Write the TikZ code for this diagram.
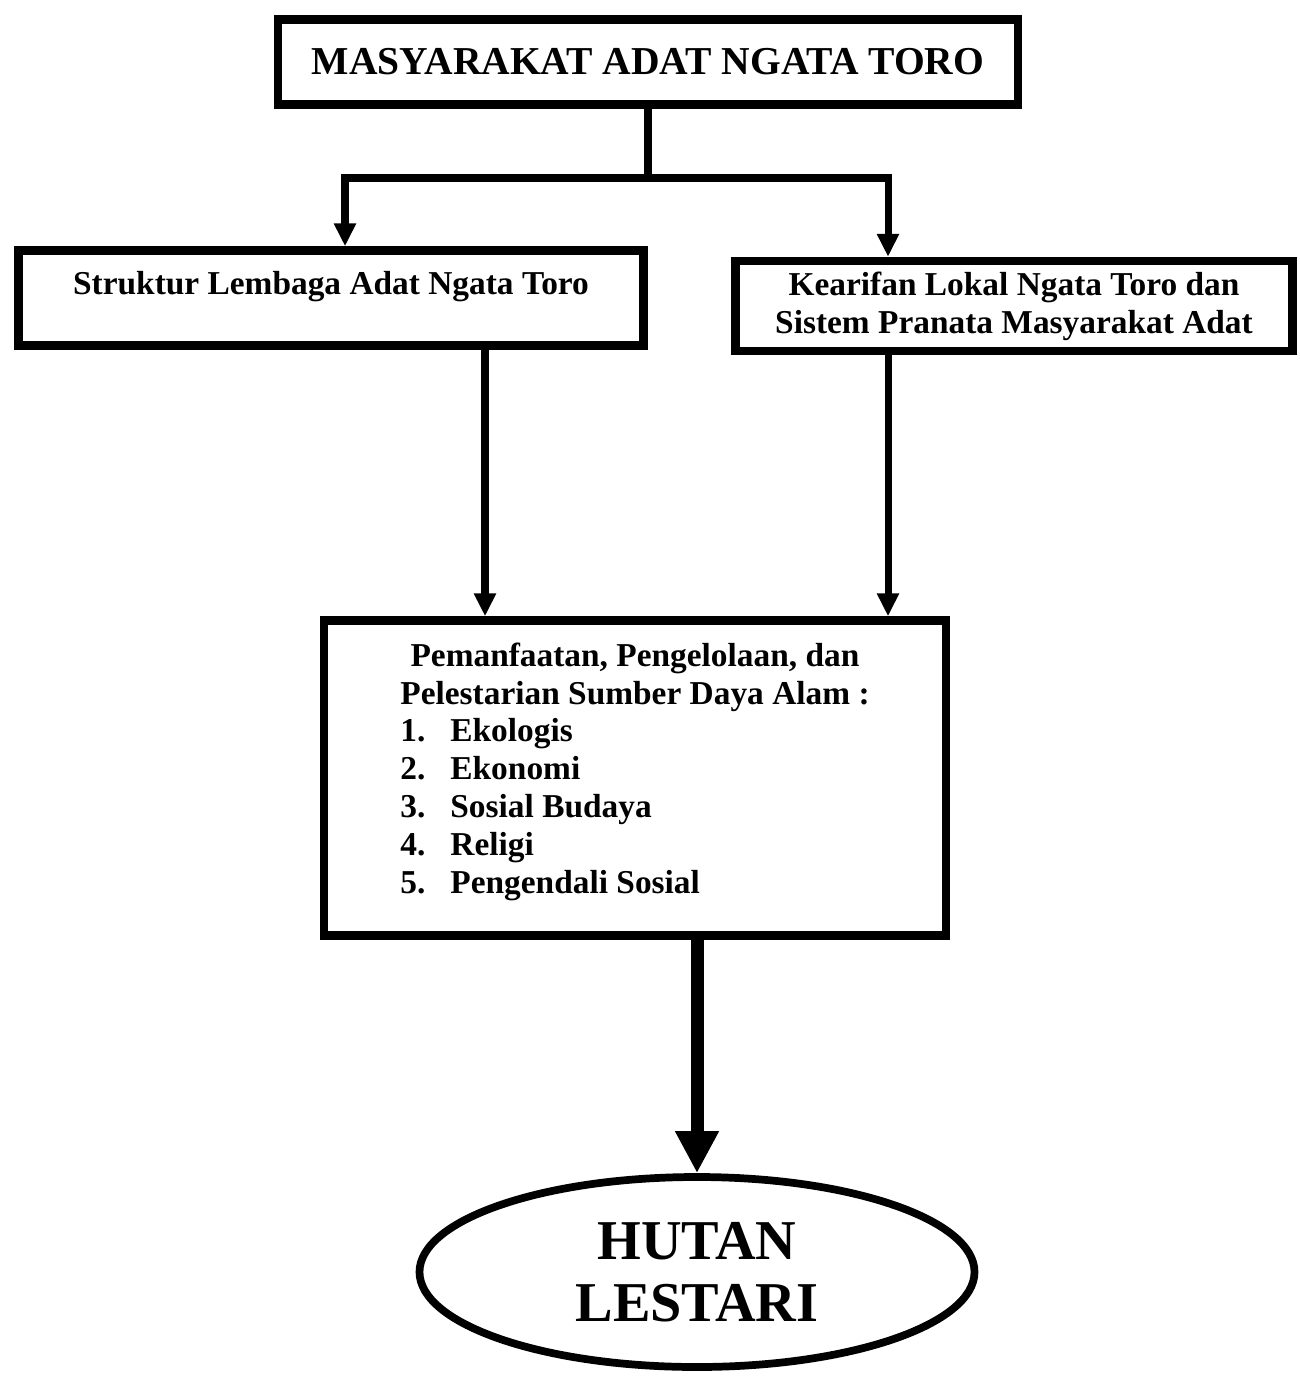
\documentclass[tikz,border=0pt]{standalone}
\usepackage{fontspec}
\setmainfont{Liberation Serif}
\usetikzlibrary{shapes.geometric, arrows, arrows.meta}
\tikzstyle{judul} = [rectangle, minimum width=14.8cm, minimum height=1.7cm, text centered, draw=black, line width=4.8pt, font=\bfseries\fontsize{22.5}{26}\selectfont]
\tikzstyle{process} = [rectangle, text centered, align=center, draw=black, line width=4.8pt, font=\bfseries\fontsize{19}{21.5}\selectfont]
\tikzstyle{hasil} = [ellipse, minimum width=11.1cm, minimum height=3.8cm, inner sep=0pt, align=center, draw=black, line width=4.4pt, font=\bfseries\fontsize{32}{35}\selectfont]
\tikzstyle{line} = [line width=4pt]
\tikzstyle{arrow} = [line width=4pt,-{Triangle[length=0.46cm,width=0.42cm]}]
\tikzstyle{bigarrow} = [line width=7.4pt,-{Triangle[length=0.84cm,width=0.82cm]}]

\begin{document}
\begin{tikzpicture}[node distance=2cm]
\useasboundingbox (0,0) rectangle (25.98,-27.58);
\node (masyarakat) [judul] at (12.96,-1.24) {MASYARAKAT ADAT NGATA TORO};
\node (struktur) [process, below of=masyarakat, yshift=-2.72cm, xshift=-6.34cm, minimum width=12.5cm, minimum height=1.9cm, text height=0.46cm, text depth=0.6cm] {Struktur Lembaga Adat Ngata Toro};
\node (kearifan) [process, below of=masyarakat, yshift=-2.88cm, xshift=7.32cm, minimum width=11.14cm, minimum height=1.8cm] {Kearifan Lokal Ngata Toro dan\\Sistem Pranata Masyarakat Adat};
\node (sda) [process, below of=masyarakat, yshift=-12.32cm, xshift=-0.26cm, minimum width=12.44cm, minimum height=6.3cm] {\begin{tabular}{@{}l@{\hspace{0.5cm}}l@{}}
\multicolumn{2}{@{}c@{}}{Pemanfaatan, Pengelolaan, dan}\\
\multicolumn{2}{@{}c@{}}{Pelestarian Sumber Daya Alam :}\\
1. & Ekologis\\
2. & Ekonomi\\
3. & Sosial Budaya\\
4. & Religi\\
5. & Pengendali Sosial
\end{tabular}\\[0.2cm]};
\node (hutan) [hasil, below of=sda, yshift=-7.88cm, xshift=1.24cm] {HUTAN\\LESTARI};
\coordinate (split) at (12.96,-3.56);
\draw [line] (masyarakat.south) -- (split);
\draw [arrow] (split) -| ([xshift=0.28cm]struktur.north);
\draw [arrow] (split) -| ([xshift=-2.52cm]kearifan.north);
\draw [arrow] ([xshift=3.08cm]struktur.south) -- ([xshift=3.08cm]struktur.south |- sda.north);
\draw [arrow] ([xshift=-2.52cm]kearifan.south) -- ([xshift=-2.52cm]kearifan.south |- sda.north);
\draw [bigarrow] (hutan.north |- sda.south) -- (hutan.north);
\end{tikzpicture}
\end{document}
